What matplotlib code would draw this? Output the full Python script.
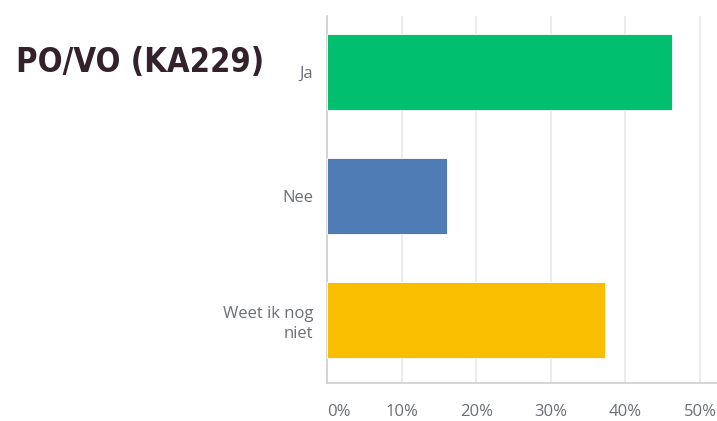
import matplotlib
matplotlib.use('Agg')
import matplotlib.pyplot as plt

# antwoorden en percentages
categories = ['Ja', 'Nee', 'Weet ik nog\nniet']
values = [46.3, 16.1, 37.2]
colors = ['#00BF6F', '#507CB6', '#F9BE00']
xticks = [0, 10, 20, 30, 40, 50]
xtick_labels = ['0%', '10%', '20%', '30%', '40%', '50%']
title = 'PO/VO (KA229)'

W, H = 717, 421
fig = plt.figure(figsize=(W / 100, H / 100), dpi=100)
ax = fig.add_axes([327 / W, (H - 383) / H, 390 / W, 367 / H])

ypos = list(range(len(categories)))
ax.barh(ypos, values, height=0.62, color=colors, edgecolor='white', linewidth=0.6, zorder=3)

ax.set_ylim(2.508, -0.452)
ax.set_xlim(0, 390 / 7.46)
ax.set_yticks(ypos)
ax.set_yticklabels(categories, fontsize=12, color='#6B6F75', family='Open Sans', ha='right',
                   linespacing=1.3)
ax.set_xticks(xticks)
ax.set_xticklabels(xtick_labels, fontsize=12, color='#6B6F75', family='Open Sans')
# eerste label staat links uitgelijnd tegen de as
ax.get_xticklabels()[0].set_ha('left')
ax.tick_params(axis='y', length=0, pad=10)
ax.tick_params(axis='x', length=0, pad=15)

ax.grid(axis='x', color='#E8E8E8', linewidth=1.2, zorder=0)
for s in ['top', 'right']:
    ax.spines[s].set_visible(False)
ax.spines['left'].set_color('#CFCFCF')
ax.spines['bottom'].set_color('#CFCFCF')
ax.spines['left'].set_linewidth(1.2)
ax.spines['bottom'].set_linewidth(1.2)

fig.text(16 / W, 1 - 63 / H, title, fontsize=23.5, fontweight='bold', color='#33222B',
         family='DejaVu Sans', fontstretch='condensed', va='center', ha='left')

fig.savefig('out.png', dpi=100)
